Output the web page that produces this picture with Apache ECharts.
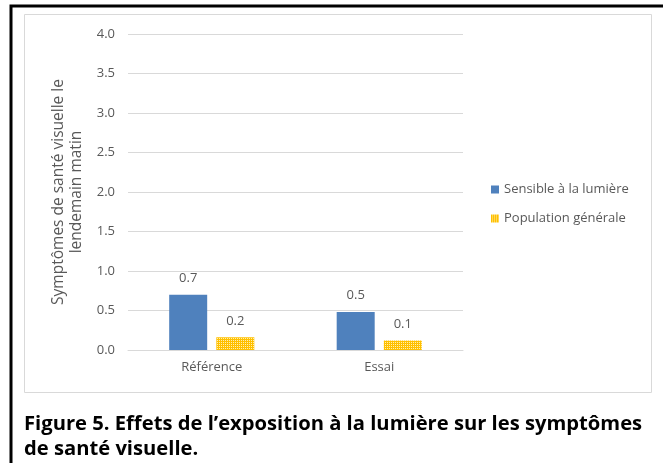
<!DOCTYPE html>
<html><head><meta charset="utf-8">
<script src="https://cdn.jsdelivr.net/npm/echarts@6/dist/echarts.min.js"></script>
<style>html,body{margin:0;padding:0;background:#fff}#c{width:663px;height:463px}</style>
</head><body><div id="c"></div>
<script>
const categories = ['Référence', 'Essai'];
const seriesNames = ['Sensible à la lumière', 'Population générale'];
const sensible = [0.7, 0.48];
const population = [0.16, 0.12];
const yMin = 0, yMax = 4, yStep = 0.5;
const yTitle = 'Symptômes de santé visuelle le\nlendemain matin';
const caption = 'Figure 5. Effets de l\u2019exposition à la lumière sur les symptômes\nde santé visuelle.';

function makePattern() {
  const c = document.createElement('canvas');
  c.width = 4; c.height = 4;
  const g = c.getContext('2d');
  g.fillStyle = '#FFC000'; g.fillRect(0, 0, 4, 4);
  g.fillStyle = '#FFEFB0';
  g.fillRect(1, 0, 1, 1); g.fillRect(3, 2, 1, 1);
  g.fillRect(1, 2, 1, 1); g.fillRect(3, 0, 1, 1);
  return { image: c, repeat: 'repeat' };
}
const pat = makePattern();
const FONT = 'Open Sans';
const chart = echarts.init(document.getElementById('c'), null, { renderer: 'canvas' });
chart.setOption({
  animation: false,
  textStyle: { fontFamily: FONT },
  grid: { left: 128, right: 200, top: 34, bottom: 113 },
  legend: {
    orient: 'vertical', left: 486, top: 178, itemWidth: 8, itemHeight: 8, itemGap: 16,
    textStyle: { fontFamily: FONT, fontSize: 13, color: '#595959' },
    data: [{ name: seriesNames[0], icon: 'rect' }, { name: seriesNames[1], icon: 'rect' }]
  },
  xAxis: {
    type: 'category', data: categories,
    axisLine: { lineStyle: { color: '#d9d9d9', width: 1 } },
    axisTick: { show: false },
    axisLabel: { color: '#595959', fontSize: 13, margin: 11, fontFamily: FONT }
  },
  yAxis: {
    type: 'value', min: yMin, max: yMax, interval: yStep,
    name: yTitle, nameLocation: 'middle', nameRotate: 90, nameGap: 42,
    nameTextStyle: { color: '#595959', fontSize: 15.5, lineHeight: 18, fontFamily: FONT },
    axisLine: { show: false }, axisTick: { show: false },
    axisLabel: { color: '#595959', fontSize: 13, margin: 13, fontFamily: FONT, formatter: v => v.toFixed(1) },
    splitLine: { lineStyle: { color: '#d9d9d9', width: 1 } }
  },
  series: [
    {
      name: seriesNames[0], type: 'bar', data: sensible, barWidth: 38, barGap: '24%',
      itemStyle: { color: '#4F81BD' },
      label: { show: true, position: 'top', distance: 10, color: '#595959', fontSize: 13, fontFamily: FONT, formatter: p => p.value.toFixed(1) }
    },
    {
      name: seriesNames[1], type: 'bar', data: population, barWidth: 38, barGap: '24%',
      itemStyle: { color: pat },
      label: { show: true, position: 'top', distance: 10, color: '#595959', fontSize: 13, fontFamily: FONT, formatter: p => p.value.toFixed(1) }
    }
  ],
  graphic: [
    { type: 'rect', shape: { x: 11, y: 6, width: 700, height: 500 }, style: { fill: null, stroke: '#000', lineWidth: 3 }, silent: true },
    { type: 'rect', shape: { x: 24.5, y: 14.5, width: 627, height: 378 }, style: { fill: null, stroke: '#d9d9d9', lineWidth: 1 }, silent: true },
    { type: 'text', left: 24, top: 412, style: { text: caption, font: 'bold 20.2px "' + FONT + '"', fill: '#000', lineHeight: 25 } }
  ]
});
</script></body></html>
